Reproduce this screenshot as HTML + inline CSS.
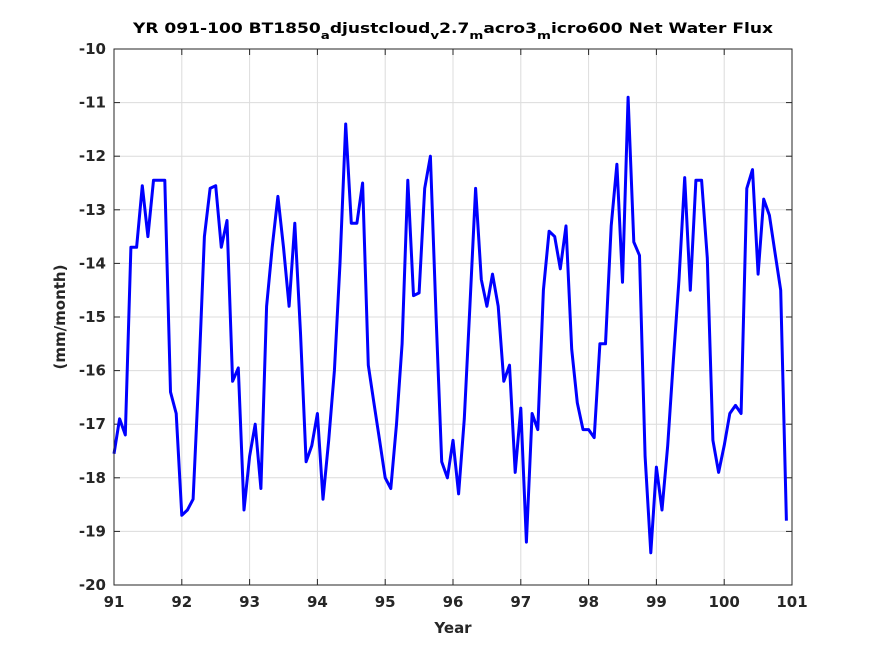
<!DOCTYPE html>
<html><head><meta charset="utf-8"><style>
body{margin:0;background:#fff;}
svg{display:block;font-family:"DejaVu Sans","Liberation Sans",sans-serif;font-weight:bold;}
</style></head><body>
<svg id="chart" width="875" height="656" viewBox="0 0 875 656" xmlns="http://www.w3.org/2000/svg">
<rect width="875" height="656" fill="#fff"/>
<rect x="114" y="49" width="678" height="536" fill="#fff"/>
<g id="grid"></g>
<g id="ticks"></g>
<polyline id="series" fill="none" stroke="#0000ff" stroke-width="3" stroke-linejoin="round"/>
<rect x="114" y="49" width="678" height="536" fill="none" stroke="#262626" stroke-width="1"/>
<text x="453" y="33" text-anchor="middle" font-size="14" fill="#000" textLength="640" lengthAdjust="spacingAndGlyphs">YR 091-100 BT1850<tspan dy="6" font-size="11">a</tspan><tspan dy="-6">djustcloud</tspan><tspan dy="6" font-size="11">v</tspan><tspan dy="-6">2.7</tspan><tspan dy="6" font-size="11">m</tspan><tspan dy="-6">acro3</tspan><tspan dy="6" font-size="11">m</tspan><tspan dy="-6">icro600 Net Water Flux</tspan></text>
<text x="453" y="633" text-anchor="middle" font-size="15" fill="#262626">Year</text>
<text x="0" y="0" transform="translate(65,317) rotate(-90)" text-anchor="middle" font-size="15" fill="#262626">(mm/month)</text>
</svg>
<script>
const yearTicks = [91,92,93,94,95,96,97,98,99,100,101];
const valueTicks = [-10,-11,-12,-13,-14,-15,-16,-17,-18,-19,-20];
const startYear = 91;
const flux = [
-17.55,-16.9,-17.2,-13.7,-13.7,-12.55,-13.5,-12.45,-12.45,-12.45,-16.4,-16.8,
-18.7,-18.6,-18.4,-16.1,-13.5,-12.6,-12.55,-13.7,-13.2,-16.2,-15.95,-18.6,
-17.6,-17.0,-18.2,-14.8,-13.7,-12.75,-13.7,-14.8,-13.25,-15.3,-17.7,-17.4,
-16.8,-18.4,-17.3,-16.0,-14.0,-11.4,-13.25,-13.25,-12.5,-15.9,-16.6,-17.3,
-18.0,-18.2,-17.0,-15.5,-12.45,-14.6,-14.55,-12.6,-12.0,-15.0,-17.7,-18.0,
-17.3,-18.3,-16.9,-14.8,-12.6,-14.3,-14.8,-14.2,-14.8,-16.2,-15.9,-17.9,
-16.7,-19.2,-16.8,-17.1,-14.5,-13.4,-13.5,-14.1,-13.3,-15.6,-16.6,-17.1,
-17.1,-17.25,-15.5,-15.5,-13.3,-12.15,-14.35,-10.9,-13.6,-13.85,-17.6,-19.4,
-17.8,-18.6,-17.4,-15.8,-14.3,-12.4,-14.5,-12.45,-12.45,-13.9,-17.3,-17.9,
-17.4,-16.8,-16.65,-16.8,-12.6,-12.25,-14.2,-12.8,-13.1,-13.8,-14.5,-18.8
];
const X0=114,X1=792,Y0=49,Y1=585;
function xs(v){return X0+(v-91)/(101-91)*(X1-X0);}
function ys(v){return Y0+(-10-v)/(-10-(-20))*(Y1-Y0);}
const NS="http://www.w3.org/2000/svg";
const grid=document.getElementById('grid'), ticks=document.getElementById('ticks');
function mk(tag,attrs,parent){const e=document.createElementNS(NS,tag);for(const k in attrs)e.setAttribute(k,attrs[k]);parent.appendChild(e);return e;}
yearTicks.forEach(t=>{
  const x=xs(t);
  const g=mk('line',{x1:x,x2:x,y1:Y0,y2:Y1,stroke:'#dcdcdc','stroke-width':1},grid);
  
  
  mk('line',{x1:x,x2:x,y1:Y1,y2:Y1-6,stroke:'#262626'},ticks);
  mk('line',{x1:x,x2:x,y1:Y0,y2:Y0+6,stroke:'#262626'},ticks);
  const l=mk('text',{x:x,y:Y1+22,'text-anchor':'middle','font-size':15,fill:'#262626'},ticks);
  l.textContent=t;
  
  
});
valueTicks.forEach(t=>{
  const y=ys(t);
  const g=mk('line',{x1:X0,x2:X1,y1:y,y2:y,stroke:'#dcdcdc','stroke-width':1},grid);
  
  
  mk('line',{x1:X0,x2:X0+6,y1:y,y2:y,stroke:'#262626'},ticks);
  mk('line',{x1:X1,x2:X1-6,y1:y,y2:y,stroke:'#262626'},ticks);
  const l=mk('text',{x:X0-8,y:y+5,'text-anchor':'end','font-size':15,fill:'#262626'},ticks);
  l.textContent=t;
  
  
});
document.getElementById('series').setAttribute('points',flux.map((v,i)=>xs(startYear+i/12).toFixed(1)+','+ys(v).toFixed(1)).join(' '));
</script>
</body></html>
